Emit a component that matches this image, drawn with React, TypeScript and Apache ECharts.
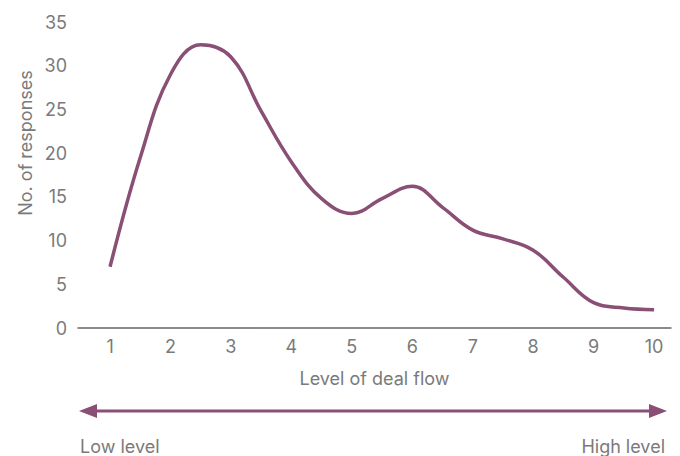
import React, { useEffect, useRef } from "react";
import * as echarts from "echarts";

const levels = [1, 1.5, 2, 2.5, 3, 3.5, 4, 4.5, 5, 5.5, 6, 6.5, 7, 7.5, 8, 8.5, 9, 9.5, 10];
const responses = [7, 19.5, 29, 32.4, 31, 24.8, 19, 14.8, 13.1, 14.8, 16.2, 13.8, 11.2, 10.2, 8.9, 5.8, 2.9, 2.3, 2.1];
const xTickLabels = [1, 2, 3, 4, 5, 6, 7, 8, 9, 10];
const yAxisTitle = "No. of responses";
const xAxisTitle = "Level of deal flow";
const lowLabel = "Low level";
const highLabel = "High level";

const PURPLE = "#8a4f75";
const GRAY = "#7a7a7a";
const FONT = "Inter, 'Noto Sans', sans-serif";

export default function App() {
  const ref = useRef<HTMLDivElement>(null);
  useEffect(() => {
    document.body.style.margin = "0";
    if (!ref.current) return;
    const chart = echarts.init(ref.current, null, { renderer: "svg" });
    chart.setOption({
      animation: false,
      grid: { left: 78, right: 9, top: 22, bottom: 128 },
      xAxis: {
        type: "value",
        min: 0.47,
        max: 10.28,
        name: xAxisTitle,
        nameLocation: "middle",
        nameGap: 41,
        nameTextStyle: { color: GRAY, fontSize: 18, fontFamily: FONT },
        axisLine: { show: true, lineStyle: { color: "#666", width: 1.5 } },
        axisTick: { show: false },
        splitLine: { show: false },
        axisLabel: {
          customValues: xTickLabels,
          color: GRAY,
          fontSize: 18,
          fontFamily: FONT,
          margin: 9,
        },
      },
      yAxis: {
        type: "value",
        min: 0,
        max: 35,
        interval: 5,
        axisLine: { show: false },
        axisTick: { show: false },
        splitLine: { show: false },
        axisLabel: { color: GRAY, fontSize: 18, fontFamily: FONT, margin: 11 },
      },
      series: [
        {
          type: "line",
          data: levels.map((x, i) => [x, responses[i]]),
          smooth: 0.4,
          symbol: "none",
          lineStyle: { color: PURPLE, width: 3.5 },
        },
      ],
      graphic: [
        {
          type: "text",
          x: 25,
          y: 143,
          rotation: Math.PI / 2,
          style: {
            text: yAxisTitle,
            fill: GRAY,
            fontSize: 18,
            fontFamily: FONT,
            align: "center",
            verticalAlign: "middle",
          },
        },
        {
          type: "line",
          shape: { x1: 90, y1: 411, x2: 656, y2: 411 },
          style: { stroke: PURPLE, lineWidth: 3 },
        },
        {
          type: "polygon",
          shape: { points: [[79, 411], [97, 404], [97, 418]] },
          style: { fill: PURPLE },
        },
        {
          type: "polygon",
          shape: { points: [[667, 411], [649, 404], [649, 418]] },
          style: { fill: PURPLE },
        },
        {
          type: "text",
          x: 80,
          y: 446,
          style: {
            text: lowLabel,
            fill: GRAY,
            fontSize: 18,
            fontFamily: FONT,
            align: "left",
            verticalAlign: "middle",
          },
        },
        {
          type: "text",
          x: 665,
          y: 446,
          style: {
            text: highLabel,
            fill: GRAY,
            fontSize: 18,
            fontFamily: FONT,
            align: "right",
            verticalAlign: "middle",
          },
        },
      ],
    });
    return () => chart.dispose();
  }, []);
  return <div ref={ref} style={{ width: 680, height: 456 }} />;
}
